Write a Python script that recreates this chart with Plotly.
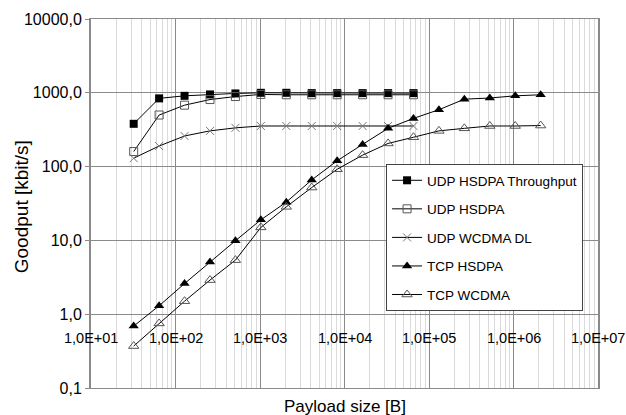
import math
import plotly.graph_objects as go

x_udp = [32, 64, 128, 256, 512, 1024, 2048, 4096, 8192, 16384, 32768, 65536]
x_tcp = x_udp + [131072, 262144, 524288, 1048576, 2097152]

udp_hsdpa_tp = [380, 840, 910, 950, 980, 1000, 1000, 990, 990, 990, 990, 990]
udp_hsdpa = [160, 500, 680, 810, 890, 950, 940, 940, 940, 940, 940, 940]
udp_wcdma = [130, 190, 260, 305, 335, 355, 355, 355, 355, 355, 355, 355]
tcp_hsdpa = [0.69, 1.3, 2.6, 5.1, 9.9, 19, 33, 66, 120, 200, 330, 450, 590, 820, 850, 910, 940]
tcp_wcdma = [0.37, 0.75, 1.5, 2.9, 5.4, 15, 28.5, 52, 92, 143, 206, 250, 305, 330, 355, 355, 360]

y_tickvals = [0.1, 1, 10, 100, 1000, 10000]
y_ticktext = ["0,1", "1,0", "10,0", "100,0", "1000,0", "10000,0"]
x_tickvals = [10, 100, 1000, 10000, 100000, 1000000, 10000000]
x_ticktext = ["1,0E+01", "1,0E+02", "1,0E+03", "1,0E+04", "1,0E+05", "1,0E+06", "1,0E+07"]

FONT = "Liberation Sans, Arial, sans-serif"

fig = go.Figure()
series = [
    ("UDP HSDPA Throughput", x_udp, udp_hsdpa_tp, dict(symbol="square", color="black", size=8)),
    ("UDP HSDPA", x_udp, udp_hsdpa, dict(symbol="square-open", color="#555555", size=8, line=dict(width=1))),
    ("UDP WCDMA DL", x_udp, udp_wcdma, dict(symbol="x-thin-open", color="#777777", size=8, line=dict(width=1, color="#777777"))),
    ("TCP HSDPA", x_tcp, tcp_hsdpa, dict(symbol="triangle-up", color="black", size=9)),
    ("TCP WCDMA", x_tcp, tcp_wcdma, dict(symbol="triangle-up-open", color="#555555", size=9, line=dict(width=1))),
]
for i, (name, xs, ys, mk) in enumerate(series):
    fig.add_trace(go.Scatter(x=xs, y=ys, name=name, mode="lines+markers",
                             line=dict(color="black", width=1), marker=mk,
                             legendgroup=str(i)))

for xv, xt in zip(x_tickvals, x_ticktext):
    fig.add_annotation(x=math.log10(xv), y=0, xref="x", yref="y", text=xt,
                       showarrow=False, yshift=-24, xanchor="center", yanchor="middle",
                       font=dict(family=FONT, size=14.5, color="black"))

fig.add_annotation(x=-0.138, y=0.49, xref="paper", yref="paper", text="Goodput [kbit/s]",
                   textangle=-90, showarrow=False, xanchor="center", yanchor="middle",
                   font=dict(family=FONT, size=19, color="black"))
fig.add_annotation(x=0.501, y=-0.018, xref="paper", yref="paper", text="Payload size [B]",
                   showarrow=False, xanchor="center", yanchor="top",
                   font=dict(family=FONT, size=17, color="black"))

fig.update_layout(
    width=626, height=415,
    margin=dict(l=91, r=28, t=19, b=27),
    paper_bgcolor="white", plot_bgcolor="white",
    font=dict(family=FONT, size=14, color="black"),
    showlegend=True,
    legend=dict(x=0.582, y=0.607, xanchor="left", yanchor="top",
                bgcolor="white", bordercolor="#444444", borderwidth=1,
                traceorder="grouped", tracegroupgap=8,
                font=dict(family=FONT, size=13.5, color="black")),
    xaxis=dict(type="log", range=[1, 7], showticklabels=False, ticks="",
               showgrid=True, gridcolor="#8a8a8a", gridwidth=1,
               tickvals=x_tickvals,
               minor=dict(showgrid=True, gridcolor="#dadada", dtick="D1", ticks=""),
               showline=True, linecolor="#8a8a8a", mirror=True, zeroline=False),
    yaxis=dict(type="log", range=[-1, 4], tickvals=y_tickvals, ticktext=y_ticktext,
               showgrid=True, gridcolor="#8a8a8a", gridwidth=1,
               ticks="outside", ticklen=4, tickcolor="#8a8a8a",
               showline=True, linecolor="#8a8a8a", linewidth=2, mirror=True, zeroline=False,
               tickfont=dict(family=FONT, size=16, color="black")),
)

fig.write_html("out.html")
